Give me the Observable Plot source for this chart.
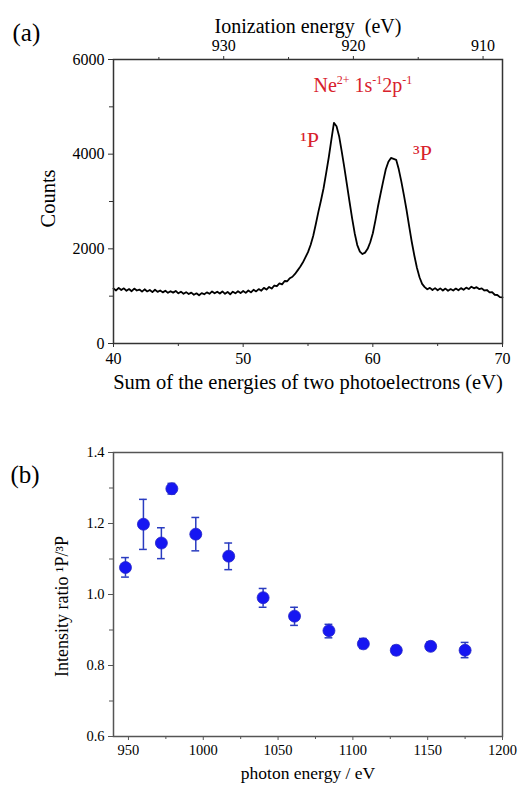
<!DOCTYPE html>
<html>
<head>
<meta charset="utf-8">
<script src="https://cdn.jsdelivr.net/npm/d3@7"></script>
<script src="https://cdn.jsdelivr.net/npm/@observablehq/plot@0.6"></script>
<style>
  html, body { margin: 0; padding: 0; background: #fff; }
  #chart svg { display: block; }
</style>
</head>
<body>
<div id="chart"></div>
<script>
// ---------- Panel (a): coincidence spectrum ----------
const sumStart = 40;      // eV
const sumStep = 0.2;      // eV
const counts = [
  1160, 1120, 1175, 1130, 1165, 1115, 1150, 1105, 1160, 1120,
  1140, 1095, 1145, 1100, 1130, 1085, 1135, 1090, 1120, 1080,
  1115, 1070, 1105, 1075, 1110, 1060, 1095, 1050, 1085, 1045,
  1075, 1030, 1060, 1020, 1065, 1040, 1080, 1050, 1100, 1060,
  1095, 1055, 1100, 1050, 1090, 1040, 1095, 1060, 1105, 1065,
  1110, 1070, 1120, 1080, 1135, 1100, 1150, 1115, 1175, 1140,
  1195, 1160, 1225, 1210, 1270, 1250, 1320, 1315, 1380, 1410,
  1470, 1545, 1620, 1710, 1820, 1930, 2080, 2270, 2520, 2780,
  3020, 3280, 3600, 3930, 4300, 4660, 4590, 4380, 4060, 3720,
  3360, 3000, 2650, 2330, 2080, 1940, 1890, 1920, 2000, 2140,
  2330, 2600, 2900, 3170, 3430, 3680, 3840, 3920, 3900, 3880,
  3680, 3420, 3130, 2820, 2480, 2150, 1860, 1600, 1400, 1260,
  1190, 1145, 1175, 1130, 1170, 1125, 1165, 1120, 1160, 1115,
  1150, 1120, 1160, 1125, 1170, 1135, 1180, 1150, 1200, 1165,
  1190, 1150, 1165, 1120, 1130, 1080, 1085, 1030, 1025, 980,
  975
];
const sumEnergy = counts.map((_, i) => +(sumStart + i * sumStep).toFixed(2));
const spectrum = counts.map((c, i) => ({sum: sumEnergy[i], counts: c}));

const sumTicks = [40, 50, 60, 70];
const sumMinorTicks = [45, 55, 65];
const countTicks = [0, 2000, 4000, 6000];
const countMinorTicks = [1000, 3000, 5000];
const ieOffset = 978.5;            // ionization energy = ieOffset - sum
const ieTicks = [930, 920, 910];
const ieMinorTicks = [935, 925, 915];

const neLabel = "Ne2+ 1s-12p-1";
const peakLabels = [
  {sum: 54.4, counts: 4310, text: "\u00B9P"},
  {sum: 63.1, counts: 4036, text: "\u00B3P"}
];

// ---------- Panel (b): intensity ratio ----------
const photonEnergy = [948, 960, 972, 979, 995, 1017, 1040, 1061, 1084, 1107, 1129, 1152, 1175];
const ratio        = [1.076, 1.198, 1.145, 1.298, 1.170, 1.108, 0.991, 0.939, 0.898, 0.861, 0.843, 0.854, 0.843];
const ratioLow     = [1.049, 1.127, 1.101, 1.283, 1.123, 1.070, 0.964, 0.913, 0.878, 0.848, 0.831, 0.843, 0.822];
const ratioHigh    = [1.104, 1.268, 1.188, 1.313, 1.217, 1.145, 1.017, 0.964, 0.916, 0.876, 0.856, 0.867, 0.865];
const ratioData = photonEnergy.map((e, i) => ({e, r: ratio[i], lo: ratioLow[i], hi: ratioHigh[i]}));

const photonTicks = [950, 1000, 1050, 1100, 1150, 1200];
const photonMinorTicks = [975, 1025, 1075, 1125, 1175];
const ratioTicks = [0.6, 0.8, 1.0, 1.2, 1.4];
const ratioMinorTicks = [0.7, 0.9, 1.1, 1.3];

const FONT = "'Liberation Serif', 'Times New Roman', serif";
const RED = "#d8212c";
const AXIS = "#333";
const BLUE = "#1616f2";
const ERR = "#2a3cc0";
const capHalf = 2.6; // eV

const plotA = Plot.plot({
  width: 521, height: 400,
  marginLeft: 113, marginRight: 19, marginTop: 59, marginBottom: 57,
  style: {fontFamily: FONT, fontSize: "16px", color: "#000", background: "#fff"},
  x: {domain: [40, 70]},
  y: {domain: [0, 6000]},
  marks: [
    Plot.line(spectrum, {x: "sum", y: "counts", stroke: "#000", strokeWidth: 1.8}),
    Plot.axisX(sumTicks, {anchor: "bottom", tickSize: 4, tickPadding: 5, stroke: AXIS, fontSize: 16,
      tickFormat: d => String(d), label: null}),
    Plot.axisX(sumMinorTicks, {anchor: "bottom", tickSize: 3, tickFormat: () => "", stroke: AXIS, label: null}),
    Plot.axisX(ieTicks.map(ie => ieOffset - ie), {anchor: "top", tickSize: 4, tickPadding: 5, stroke: AXIS, fontSize: 16,
      tickFormat: s => String(Math.round(ieOffset - s)), label: null}),
    Plot.axisX(ieMinorTicks.map(ie => ieOffset - ie), {anchor: "top", tickSize: 3, tickFormat: () => "", stroke: AXIS, label: null}),
    Plot.axisY(countTicks, {anchor: "left", tickSize: 5, tickPadding: 4, stroke: AXIS, fontSize: 16,
      tickFormat: d => String(d), label: null}),
    Plot.axisY(countMinorTicks, {anchor: "left", tickSize: 4, tickFormat: () => "", stroke: AXIS, label: null}),
    Plot.frame({stroke: AXIS, strokeWidth: 1.5}),
    Plot.text([neLabel], {x: 55.42, y: 5450, text: d => d, textAnchor: "start", fill: RED, fontSize: 20}),
    Plot.text(peakLabels, {x: "sum", y: "counts", text: "text", textAnchor: "start", fill: RED, fontSize: 22}),
    Plot.text(["Sum of the energies of two photoelectrons (eV)"], {text: d => d, frameAnchor: "bottom", textAnchor: "middle", dy: 45, fontSize: 20.5}),
    Plot.text(["Ionization energy  (eV)"], {text: d => d, frameAnchor: "top", textAnchor: "middle", dy: -41, fontSize: 20}),
    Plot.text(["Counts"], {text: d => d, frameAnchor: "left", textAnchor: "middle", rotate: -90, dx: -65, dy: -3, fontSize: 20.5}),
    Plot.text(["(a)"], {text: d => d, frameAnchor: "top-left", textAnchor: "start", dx: -101, dy: -36, fontSize: 25})
  ]
});

const plotB = Plot.plot({
  width: 521, height: 389,
  marginLeft: 113, marginRight: 19, marginTop: 52, marginBottom: 53,
  style: {fontFamily: FONT, fontSize: "14.5px", color: "#000", background: "#fff"},
  x: {domain: [940, 1200]},
  y: {domain: [0.6, 1.4]},
  marks: [
    Plot.ruleX(ratioData, {x: "e", y1: "lo", y2: "hi", stroke: ERR, strokeWidth: 1.5}),
    Plot.ruleY(ratioData, {y: "lo", x1: d => d.e - capHalf, x2: d => d.e + capHalf, stroke: ERR, strokeWidth: 1.5}),
    Plot.ruleY(ratioData, {y: "hi", x1: d => d.e - capHalf, x2: d => d.e + capHalf, stroke: ERR, strokeWidth: 1.5}),
    Plot.dot(ratioData, {x: "e", y: "r", r: 6, fill: BLUE, stroke: "#2626c8", strokeWidth: 0.8}),
    Plot.axisX(photonTicks, {anchor: "bottom", tickSize: 4, tickPadding: 4, stroke: "#555", fontSize: 14.5,
      tickFormat: d => String(d), label: null}),
    Plot.axisX(photonMinorTicks, {anchor: "bottom", tickSize: 3, tickFormat: () => "", stroke: "#555", label: null}),
    Plot.axisY(ratioTicks, {anchor: "left", tickSize: 5, tickPadding: 4, stroke: "#555", fontSize: 14.5,
      tickFormat: d => d.toFixed(1), label: null}),
    Plot.axisY(ratioMinorTicks, {anchor: "left", tickSize: 4, tickFormat: () => "", stroke: "#555", label: null}),
    Plot.frame({stroke: "#555", strokeWidth: 1.5}),
    Plot.text(["photon energy / eV"], {text: d => d, frameAnchor: "bottom", textAnchor: "middle", dy: 42, fontSize: 17.5}),
    Plot.text(["Intensity ratio \u00B9P/\u00B3P"], {text: d => d, frameAnchor: "left", textAnchor: "middle", rotate: -90, dx: -51, dy: 12, fontSize: 18}),
    Plot.text(["(b)"], {text: d => d, frameAnchor: "top-left", textAnchor: "start", dx: -103, dy: 13, fontSize: 25})
  ]
});

// Superscripts in the red state label
function superscriptLabel(svg) {
  const el = [...svg.querySelectorAll("text")].find(t => t.textContent === neLabel);
  if (!el) return;
  el.textContent = "";
  const parts = [["Ne", false], ["2+", true], [" 1s", false], ["-1", true], ["2p", false], ["-1", true]];
  const ns = "http://www.w3.org/2000/svg";
  let raised = false;
  for (const [str, sup] of parts) {
    const ts = document.createElementNS(ns, "tspan");
    ts.textContent = str;
    if (sup) {
      ts.setAttribute("font-size", "12");
      if (!raised) ts.setAttribute("dy", "-8");
      raised = true;
    } else if (raised) {
      ts.setAttribute("dy", "8");
      raised = false;
    }
    el.appendChild(ts);
  }
}
superscriptLabel(plotA);

document.getElementById("chart").append(plotA, plotB);
</script>
</body>
</html>
